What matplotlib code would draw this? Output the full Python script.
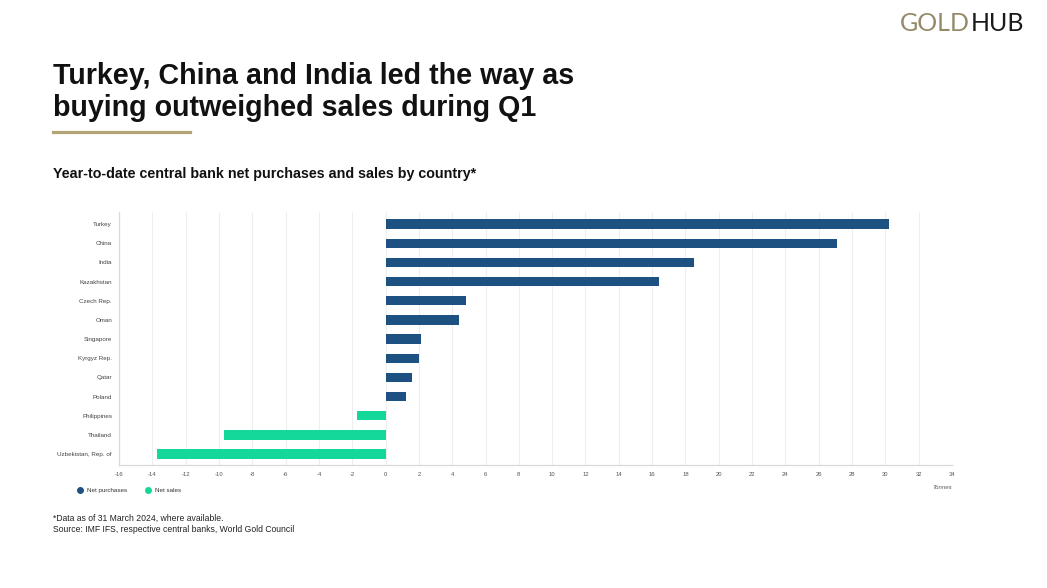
import matplotlib.pyplot as plt
from matplotlib.lines import Line2D

# data (tonnes)
countries = ["Turkey", "China", "India", "Kazakhstan", "Czech Rep.", "Oman",
             "Singapore", "Kyrgyz Rep.", "Qatar", "Poland", "Philippines",
             "Thailand", "Uzbekistan, Rep. of"]
tonnes = [30.2, 27.1, 18.5, 16.4, 4.8, 4.4, 2.1, 2.0, 1.6, 1.2, -1.7, -9.7, -13.7]
x_ticks = list(range(-16, 35, 2))

navy = "#1d5182"
green = "#14d79a"
gold = "#b3a478"

plt.rcParams['font.family'] = ['Liberation Sans', 'DejaVu Sans']

fig = plt.figure(figsize=(10.47, 5.88), dpi=100)
ax = fig.add_axes([119 / 1047, 1 - 465 / 588, 833 / 1047, 253 / 588])

colors = [navy if v >= 0 else green for v in tonnes]
ax.barh(range(len(countries)), tonnes, height=0.48, color=colors, zorder=3)

ax.set_xlim(-16, 34)
ax.set_ylim(12.57, -0.63)
ax.set_yticks(range(len(countries)))
ax.set_yticklabels(countries, fontsize=4.5, color="#444444")
ax.set_xticks(x_ticks)
ax.set_xticklabels([str(t) for t in x_ticks], fontsize=4.2, color="#555555")
ax.tick_params(length=0, pad=5)
ax.grid(axis="x", color="#eeeeee", linewidth=0.8, zorder=0)
for s in ["top", "right"]:
    ax.spines[s].set_visible(False)
for s in ["left", "bottom"]:
    ax.spines[s].set_color("#d9d9d9")
    ax.spines[s].set_linewidth(0.9)

# titles
fig.text(53 / 1047, 1 - 84 / 588, "Turkey, China and India led the way as",
         fontsize=20.6, weight="bold", color="#111111")
fig.text(53 / 1047, 1 - 116 / 588, "buying outweighed sales during Q1",
         fontsize=20.6, weight="bold", color="#111111")
fig.add_artist(Line2D([53 / 1047, 190 / 1047], [1 - 132 / 588, 1 - 132 / 588],
                      color=gold, linewidth=2.3))
fig.text(53 / 1047, 1 - 178 / 588,
         "Year-to-date central bank net purchases and sales by country*",
         fontsize=10.3, weight="bold", color="#111111")

# logo: HUB placed right after GOLD
gold_txt = fig.text(900 / 1047, 1 - 31 / 588, "GOLD", fontsize=18,
                    family="Lato", color="#958a68")
fig.canvas.draw()
ext = gold_txt.get_window_extent()
fig.text((ext.x1 + 1) / 1047, 1 - 31 / 588, "HUB", fontsize=18,
         family="Lato", color="#1a1a1a")

# legend
fig.text(952 / 1047, 1 - 489 / 588, "Tonnes", fontsize=4.3, style="italic",
         color="#555555", ha="right")
fig.add_artist(Line2D([80 / 1047], [1 - 490 / 588], marker="o", markersize=4,
                      color=navy, linestyle="none"))
fig.text(87 / 1047, 1 - 492 / 588, "Net purchases", fontsize=4.5, color="#333333")
fig.add_artist(Line2D([148 / 1047], [1 - 490 / 588], marker="o", markersize=4,
                      color=green, linestyle="none"))
fig.text(155 / 1047, 1 - 492 / 588, "Net sales", fontsize=4.5, color="#333333")

# footnotes
fig.text(53 / 1047, 1 - 521 / 588, "*Data as of 31 March 2024, where available.",
         fontsize=6.2, color="#222222")
fig.text(53 / 1047, 1 - 532 / 588,
         "Source: IMF IFS, respective central banks, World Gold Council",
         fontsize=6.2, color="#222222")

fig.savefig("out.png", dpi=100, facecolor="white")
